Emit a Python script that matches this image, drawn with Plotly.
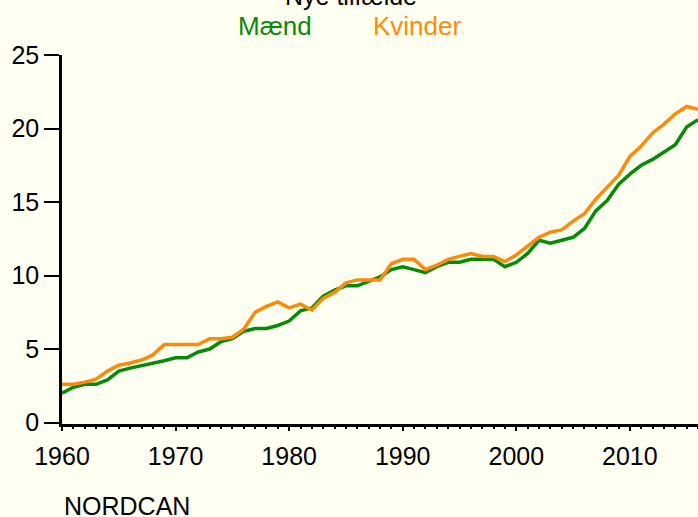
import plotly.graph_objects as go

years = list(range(1960, 2017))

maend = [2.0, 2.4, 2.6, 2.6, 2.9, 3.5, 3.7, 3.85, 4.0, 4.2,
         4.4, 4.4, 4.8, 5.0, 5.5, 5.7, 6.2, 6.4, 6.4, 6.6,
         6.9, 7.6, 7.8, 8.6, 9.0, 9.3, 9.3, 9.6, 9.9, 10.4,
         10.6, 10.4, 10.2, 10.6, 10.9, 10.9, 11.1, 11.1, 11.1, 10.6,
         10.9, 11.5, 12.4, 12.2, 12.4, 12.6, 13.2, 14.4, 15.1, 16.2,
         16.9, 17.5, 17.9, 18.4, 18.9, 20.1, 20.6]

kvinder = [2.6, 2.6, 2.75, 2.95, 3.5, 3.9, 4.05, 4.25, 4.6, 5.3,
           5.3, 5.3, 5.3, 5.7, 5.7, 5.8, 6.35, 7.5, 7.9, 8.2,
           7.8, 8.05, 7.65, 8.45, 8.85, 9.5, 9.7, 9.7, 9.7, 10.8,
           11.1, 11.1, 10.4, 10.7, 11.1, 11.3, 11.5, 11.3, 11.3, 10.95,
           11.4, 12.0, 12.6, 12.95, 13.1, 13.7, 14.2, 15.2, 16.0, 16.8,
           18.1, 18.8, 19.7, 20.3, 21.0, 21.5, 21.3]

y_ticks = [0, 5, 10, 15, 20, 25]
x_ticks = [1960, 1970, 1980, 1990, 2000, 2010]

GREEN = '#078a07'
ORANGE = '#ff8a0a'
BG = '#fffff2'
FONT = 'Liberation Sans, Arial, sans-serif'

fig = go.Figure()
fig.add_trace(go.Scatter(x=years, y=maend, mode='lines', name='Mænd',
                         line=dict(color=GREEN, width=3.5)))
fig.add_trace(go.Scatter(x=years, y=kvinder, mode='lines', name='Kvinder',
                         line=dict(color=ORANGE, width=3.5)))

fig.update_layout(
    width=698, height=517,
    margin=dict(l=62, r=0, t=55, b=93),
    paper_bgcolor=BG, plot_bgcolor=BG,
    font=dict(family=FONT, size=25, color='black'),
    showlegend=False,
)

fig.update_xaxes(
    range=[1960, 2016], tickvals=x_ticks, showgrid=False, zeroline=False,
    showline=True, linecolor='black', linewidth=2.5,
    ticks='outside', ticklen=4, tickwidth=2, tickcolor='black',
    ticklabelstandoff=4,
    minor=dict(dtick=1, ticks='outside', ticklen=2, tickwidth=1.5, tickcolor='black'),
)
fig.update_yaxes(
    range=[-0.1, 25], tickvals=y_ticks, showgrid=False, zeroline=False,
    showline=True, linecolor='black', linewidth=2.5,
    ticks='outside', ticklen=15, tickwidth=2, tickcolor='black',
)

# title, legend labels and source as text
fig.add_annotation(text='Nye tilfælde', xref='paper', yref='paper', x=0.455, y=1.16,
                   showarrow=False, xanchor='center', yanchor='middle',
                   font=dict(size=25, color='black'))
fig.add_annotation(text='Mænd', xref='paper', yref='paper', x=0.335, y=1.079,
                   showarrow=False, xanchor='center', yanchor='middle',
                   font=dict(size=26, color=GREEN))
fig.add_annotation(text='Kvinder', xref='paper', yref='paper', x=0.558, y=1.079,
                   showarrow=False, xanchor='center', yanchor='middle',
                   font=dict(size=26, color=ORANGE))
fig.add_annotation(text='NORDCAN', xref='paper', yref='paper', x=0.0, y=-0.222,
                   showarrow=False, xanchor='left', yanchor='middle',
                   font=dict(size=25, color='black'))

# drop the page margin so the figure sits at the window's corner
fig.write_html("out.html",
               config={'displayModeBar': False},
               post_script="document.body.style.margin='0';"
                           "document.body.style.background='%s';"
                           "document.body.style.overflow='hidden';" % BG)
